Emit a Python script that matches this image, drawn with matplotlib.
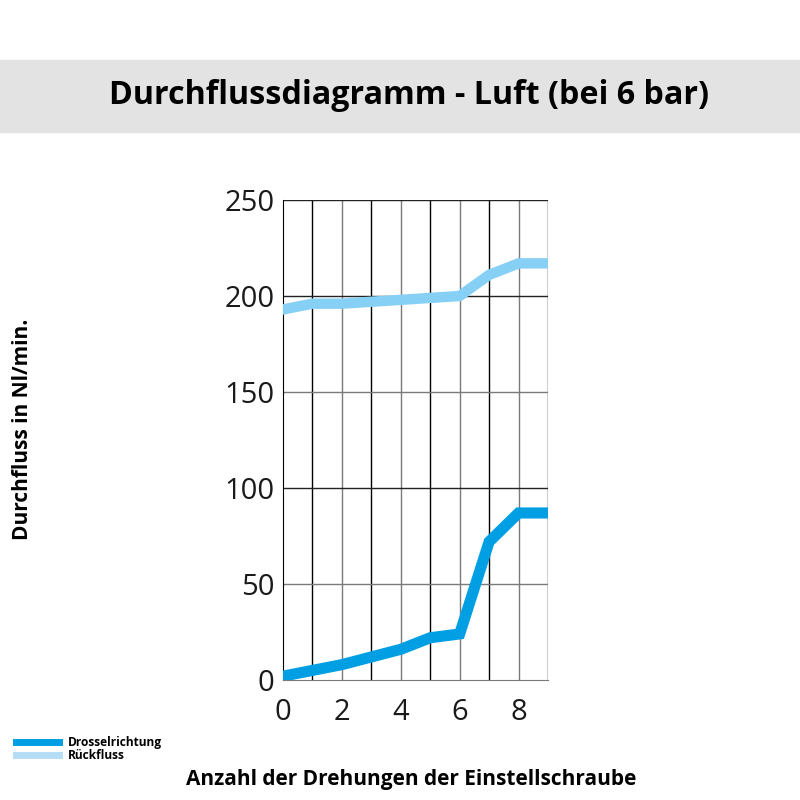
import numpy as np
import matplotlib.pyplot as plt
from matplotlib.patches import Rectangle
from matplotlib.lines import Line2D

turns = [0, 1, 2, 3, 4, 5, 6, 7, 8, 9]
drossel = [2, 5, 8, 12, 16, 22, 24, 72, 87, 87]
rueckfluss = [193, 196, 196, 197, 198, 199, 200, 211, 217, 217]
xticks = [0, 2, 4, 6, 8]
yticks = [0, 50, 100, 150, 200, 250]

dark_blue = '#009fe3'
light_blue = '#86cff5'

fig = plt.figure(figsize=(8, 8), dpi=100)
fig.patches.append(Rectangle((0, 1 - 132 / 800), 1, 72 / 800, transform=fig.transFigure,
                             color='#e3e3e3', zorder=0))
fig.text(0.511, 1 - 96 / 800, 'Durchflussdiagramm - Luft (bei 6 bar)', ha='center', va='center',
         fontsize=23.2, fontweight='bold', family='Open Sans')

ax = fig.add_axes([283 / 800, 0.15, 265 / 800, 0.6])
ax.set_xlim(0, 9)
ax.set_ylim(0, 250)

for i in range(1, 10):
    ax.axvline(i, color='black' if i % 2 else '#7a7a7a', lw=1, zorder=1)
for v in [50, 100, 150, 200, 250]:
    ax.axhline(v, color='#7a7a7a' if v in (50, 150) else '#222222', lw=1, zorder=1)

ax.plot(turns, rueckfluss, color=light_blue, lw=7.5, solid_joinstyle='miter', zorder=3)
ax.plot(turns, drossel, color=dark_blue, lw=8, solid_joinstyle='miter', zorder=3)

for s in ['top', 'right']:
    ax.spines[s].set_visible(False)
ax.spines['left'].set_color('black')
ax.spines['bottom'].set_color('#7a7a7a')
ax.set_xticks(xticks)
ax.set_yticks(yticks)
ax.tick_params(length=0, labelsize=21, colors='#1a1a1a')
ax.tick_params(axis='y', pad=6)
ax.tick_params(axis='x', pad=13)
for lab in ax.get_xticklabels() + ax.get_yticklabels():
    lab.set_family('Open Sans')

fig.text(0.028, 1 - 429 / 800, 'Durchfluss in Nl/min.', rotation=90, ha='center', va='center',
         fontsize=15, fontweight='bold', family='Open Sans')
fig.text(0.514, 1 - 779 / 800, 'Anzahl der Drehungen der Einstellschraube', ha='center', va='center',
         fontsize=15, fontweight='bold', family='Open Sans')

handles = [Line2D([], [], color=dark_blue, lw=5), Line2D([], [], color='#b5def6', lw=5)]
fig.legend(handles, ['Drosselrichtung', 'Rückfluss'], loc='upper left',
           bbox_to_anchor=(0.009, 1 - 728 / 800), frameon=False, handlelength=3.6,
           handletextpad=0.8, labelspacing=0.0, borderpad=0.2,
           prop={'family': 'Open Sans', 'weight': 'bold', 'size': 8.6})

fig.savefig('out.png', dpi=100)
